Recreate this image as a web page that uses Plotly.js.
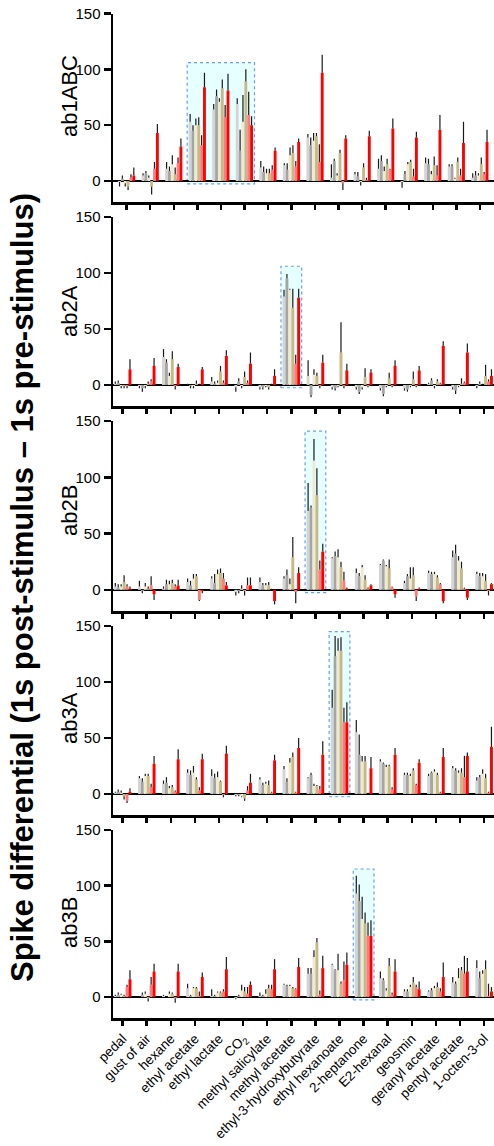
<!DOCTYPE html>
<html>
<head>
<meta charset="utf-8">
<script src="https://cdn.plot.ly/plotly-3.0.1.min.js"></script>
<style>html,body{margin:0;padding:0;background:#fff;}#chart{width:494px;height:1146px;}</style>
</head>
<body>
<div id="chart"></div>
<script>
const categories = ['pedal','gust of air','hexane','ethyl acetate','ethyl lactate','CO<sub>2</sub>','methyl salicylate','methyl acetate','ethyl-3-hydroxybutyrate','ethyl hexanoate','2-heptanone','E2-hexanal','geosmin','geranyl acetate','pentyl acetate','1-octen-3-ol'];
const panelNames = ['ab1ABC','ab2A','ab2B','ab3A','ab3B'];
const yTickVals = [0, 50, 100, 150];

// rows = stimuli (categories), columns = 6 bar series per stimulus
const ab1ABC_mean = [
[-1,2,-2,-5,3,5],[5,7,3,-5,11,43],[11,9,15,6,16,31],[53,45,50,50,32,84],
[64,76,71,83,57,81],[69,27,53,89,59,50],[12,8,7,7,10,27],[14,10,23,25,13,35],
[39,32,36,40,17,97],[3,18,5,25,-2,38],[6,4,-1,12,1,40],[11,18,9,15,10,47],
[-1,6,15,17,4,39],[16,15,6,14,5,46],[13,13,2,17,5,34],[3,5,5,15,6,35]];
const ab1ABC_err = [
[4,3,3,3,3,7],[2,2,2,7,6,8],[6,4,8,6,5,7],[7,5,6,7,9,13],
[5,6,3,8,11,15],[5,19,24,11,21,8],[6,5,4,4,4,3],[2,6,7,7,5,3],
[3,7,7,3,16,16],[12,2,2,3,6,3],[2,4,3,4,2,5],[9,5,4,5,1,9],
[5,3,2,2,7,5],[5,5,3,8,9,13],[2,2,1,4,6,19],[4,4,2,6,2,11]];

const ab2A_mean = [
[1,2,-1,-1,-1,14],[-1,-3,-1,1,3,17],[25,20,8,23,-1,16],[0,-1,-1,1,0,14],
[3,1,2,12,2,26],[-2,3,-1,7,2,19],[-2,-2,-1,-2,0,8],[79,95,85,69,19,78],
[8,-9,9,8,-1,20],[-2,-3,-1,29,-1,13],[-2,-6,-2,7,-1,11],[-3,-8,-1,6,-1,17],
[-3,-4,-1,5,-1,13],[1,4,-1,3,1,35],[-2,-5,-1,1,2,29],[-1,1,0,8,3,8]];
const ab2A_err = [
[2,2,2,2,2,9],[2,3,2,2,2,7],[7,3,3,7,3,3],[1,2,2,3,1,2],
[4,2,2,5,2,5],[4,3,2,5,2,10],[2,2,1,2,1,6],[6,4,1,17,8,8],
[14,2,5,3,2,7],[2,2,1,27,2,6],[2,2,2,8,1,3],[2,2,1,5,1,5],
[2,2,1,7,1,4],[1,2,2,2,1,4],[2,3,1,5,1,8],[2,2,1,10,2,6]];

const ab2B_mean = [
[3,2,3,7,3,1],[3,-1,3,1,4,-4],[1,5,5,6,3,4],[7,4,10,12,-9,-1],
[10,6,14,15,10,4],[-2,-1,1,-1,4,4],[7,4,4,4,0,-10],[10,13,5,29,-2,15],
[70,73,115,84,18,34],[28,30,29,20,8,1],[15,12,20,9,1,4],[22,26,21,19,2,-4],
[6,12,10,13,-6,1],[15,14,14,11,5,-10],[29,32,26,19,1,-7],[14,12,12,8,-1,5]];
const ab2B_err = [
[3,3,2,6,2,2],[5,2,3,2,8,5],[2,4,3,3,2,5],[3,4,4,2,1,2],
[2,8,4,4,5,3],[3,2,3,4,7,7],[4,2,2,3,1,3],[2,5,5,18,10,5],
[25,2,19,24,8,7],[1,4,7,5,8,1],[4,3,2,4,1,1],[1,1,1,8,1,3],
[2,2,10,7,4,1],[2,2,2,2,1,2],[6,8,4,6,1,2],[2,3,3,6,4,1]];

const ab3A_mean = [
[1,2,1,-2,-6,2],[14,11,16,16,6,27],[9,10,5,6,2,31],[19,17,19,13,3,31],
[16,14,15,11,-1,36],[-1,-1,-2,-4,3,10],[13,8,9,8,1,30],[22,11,28,33,1,41],
[14,17,7,7,4,35],[77,123,128,128,64,64],[55,35,29,29,0,23],[29,27,24,25,4,35],
[17,17,16,21,8,28],[16,19,20,17,1,33],[23,21,19,19,15,34],[12,15,18,14,1,42]];
const ab3A_err = [
[1,2,2,3,2,3],[2,3,2,2,3,7],[3,5,2,2,1,9],[3,4,6,2,3,5],
[6,4,5,1,2,7],[1,1,1,2,4,8],[2,2,2,4,1,5],[3,3,4,4,1,9],
[1,2,2,1,3,12],[16,18,11,12,13,18],[11,18,5,5,1,10],[2,1,2,1,2,6],
[2,2,2,2,1,3],[2,1,2,2,1,8],[2,2,2,4,19,3],[3,2,4,4,1,18]];

const ab3B_mean = [
[1,2,2,1,9,16],[0,2,3,-1,11,23],[1,0,3,3,-1,23],[8,1,8,8,1,18],
[1,1,4,4,5,25],[-1,1,6,5,3,11],[1,1,3,8,7,25],[11,10,10,8,7,27],
[21,21,36,49,2,26],[29,24,24,12,15,29],[93,86,70,66,55,55],[17,15,6,28,2,23],
[5,5,9,13,9,7],[5,6,8,9,5,18],[13,12,17,24,21,23],[26,17,21,25,1,5]];
const ab3B_err = [
[1,2,1,1,2,8],[1,2,2,3,7,7],[1,1,2,1,4,7],[4,1,1,1,4,4],
[6,1,1,1,2,11],[1,1,5,4,6,3],[3,1,4,3,4,9],[1,1,1,1,1,8],
[5,5,6,4,4,11],[1,1,15,2,17,11],[16,15,20,10,12,14],[6,2,2,7,2,11],
[2,2,2,5,2,7],[1,2,2,4,3,13],[5,2,9,3,16,12],[7,6,3,8,11,4]];

// highlighted stimuli (first, last category index) and box top value per panel
const highlightCats = [[3,5],[7,7],[8,8],[9,9],[10,10]];
const highlightTop = [106,106,141,145,115];

const panelMeans = [ab1ABC_mean, ab2A_mean, ab2B_mean, ab3A_mean, ab3B_mean];
const panelErrs = [ab1ABC_err, ab2A_err, ab2B_err, ab3A_err, ab3B_err];

const seriesColors = ['#d4d4d4','#a5a5a5','#efeacf','#c6b988','#ff7b7b','#ff0000'];

// layout geometry (pixels)
const W = 494, H = 1146, ML = 113, MR = 0, MT = 13, MB = 128;
const plotH = H - MT - MB;
const panelPx = [[13.5,202],[217,406],[421,611],[626,815],[830,1018]];
const xRanges = [[-0.58,15.6],[-0.40,15.41],[-0.40,15.41],[-0.40,15.41],[-0.40,15.41]];
const yRange = [-18.8,150];
const labelYpx = [96,311,511,718,923];
function pyToPaper(p){ return (H - MB - p)/plotH; }

const FONT = 'Arial, "Liberation Sans", sans-serif';
const traces = [];
const layout = {
  width: W, height: H,
  margin: {l: ML, r: MR, t: MT, b: MB},
  paper_bgcolor: '#fff', plot_bgcolor: 'rgba(0,0,0,0)',
  showlegend: false,
  barmode: 'group', bargap: 0.27, bargroupgap: 0,
  font: {family: FONT, color: '#000'},
  shapes: [], annotations: []
};

for (let p = 0; p < 5; p++) {
  const sfx = p === 0 ? '' : String(p + 1);
  const xa = 'x' + sfx, ya = 'y' + sfx;
  for (let s = 0; s < 6; s++) {
    const vals = panelMeans[p].map(r => r[s]);
    const errs = panelErrs[p].map(r => r[s]);
    traces.push({
      type: 'bar', x: categories.map((c, i) => i), y: vals,
      xaxis: xa, yaxis: ya,
      marker: {color: seriesColors[s], line: {width: 0}},
      error_y: {type: 'data', symmetric: false,
        array: vals.map((v, i) => v >= 0 ? errs[i] : 0),
        arrayminus: vals.map((v, i) => v < 0 ? errs[i] : 0),
        color: '#1a1a1a', thickness: 1.2, width: 0},
      hoverinfo: 'skip'
    });
  }
  const top = pyToPaper(panelPx[p][0]), bot = pyToPaper(panelPx[p][1]);
  layout['xaxis' + sfx] = {
    domain: [0, 1], range: xRanges[p], anchor: ya,
    showline: true, linewidth: 2.5, linecolor: '#000',
    ticks: 'outside', ticklen: 5, tickwidth: 2.5, tickcolor: '#000',
    tickmode: 'array', tickvals: categories.map((c, i) => i),
    ticktext: categories, showticklabels: p === 4,
    tickangle: -45, tickfont: {size: 13.5, family: FONT, color: '#000'},
    showgrid: false, zeroline: false, automargin: false, fixedrange: true
  };
  layout['yaxis' + sfx] = {
    domain: [Math.max(0, bot), Math.min(1, top)], range: yRange, anchor: xa,
    showline: true, linewidth: 2.5, linecolor: '#000',
    ticks: 'outside', ticklen: 7, tickwidth: 2.5, tickcolor: '#000',
    tickmode: 'array', tickvals: yTickVals,
    tickfont: {size: 15, family: FONT, color: '#000'},
    showgrid: false, zeroline: true, zerolinewidth: 2.5, zerolinecolor: '#000',
    automargin: false, fixedrange: true
  };
  layout.shapes.push({
    type: 'rect', xref: xa, yref: ya, layer: 'below',
    x0: highlightCats[p][0] - 0.43, x1: highlightCats[p][1] + 0.43,
    y0: -2.5, y1: highlightTop[p],
    fillcolor: '#e6ffff', line: {color: '#6f9cf0', width: 1.2, dash: 'dot'}
  });
  layout.annotations.push({
    xref: 'paper', yref: 'paper', x: (69 - ML) / (W - ML - MR), y: pyToPaper(labelYpx[p]),
    text: panelNames[p], textangle: -90, showarrow: false,
    xanchor: 'center', yanchor: 'middle', font: {size: 22, family: FONT, color: '#000'}
  });
}
layout.annotations.push({
  xref: 'paper', yref: 'paper', x: (22 - ML) / (W - ML - MR), y: pyToPaper(588),
  text: '<b>Spike differential (1s post-stimulus – 1s pre-stimulus)</b>', textangle: -90, showarrow: false,
  xanchor: 'center', yanchor: 'middle', font: {size: 31, family: FONT, color: '#000'}
});

Plotly.newPlot('chart', traces, layout, {staticPlot: true, displayModeBar: false});
</script>
</body>
</html>
